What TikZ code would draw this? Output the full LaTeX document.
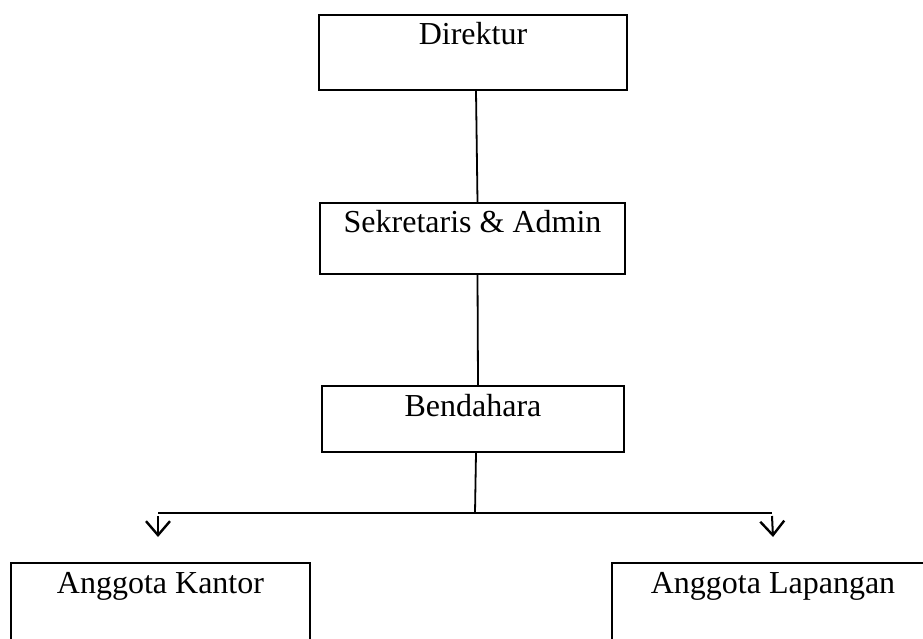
\documentclass[tikz,border=0pt]{standalone}
\usepackage{fontspec}
\setmainfont{Liberation Serif}
\usetikzlibrary{arrows.meta}
\begin{document}
\begin{tikzpicture}[x=1pt,y=-1pt,
    box/.style={draw, line width=2pt, inner sep=0pt, anchor=north west,
      text height=30pt, font=\fontsize{32}{36}\selectfont},
    link/.style={line width=1.8pt},
    tip/.style={-{Straight Barb[length=14pt,width=24pt,line width=2.4pt]}, line width=2pt}]
  \useasboundingbox (0,0) rectangle (923,639);
  \clip (0,0) rectangle (923,639);
  \node[box, minimum width=308pt, text depth=45pt] (dir) at (318,14) {Direktur};
  \node[box, minimum width=305pt, text depth=41pt] (sek) at (319,202) {Sekretaris \& Admin};
  \node[box, minimum width=302pt, text depth=36pt] (bend) at (321,385) {Bendahara};
  \node[box, minimum width=299pt, text depth=110pt] (kantor) at (10,562) {Anggota Kantor};
  \node[box, minimum width=322pt, text depth=110pt] (lapangan) at (611,562) {Anggota Lapangan};
  \coordinate (mid) at (475,513);
  \coordinate (left) at (158,513);
  \coordinate (right) at (772,513);
  \coordinate (kantorin) at (158,537);
  \coordinate (lapanganin) at (773,537);
  \begin{scope}[link]
    \draw ([xshift=3pt]dir.south) to ([xshift=5pt]sek.north);
    \draw ([xshift=5pt]sek.south) to ([xshift=5pt]bend.north);
    \draw ([xshift=3pt]bend.south) to (mid);
    \draw (left) to (right);
  \end{scope}
  \draw[tip] ([yshift=-3pt]left) to (kantorin);
  \draw[tip] ([yshift=-3pt]right) to (lapanganin);
\end{tikzpicture}
\end{document}
